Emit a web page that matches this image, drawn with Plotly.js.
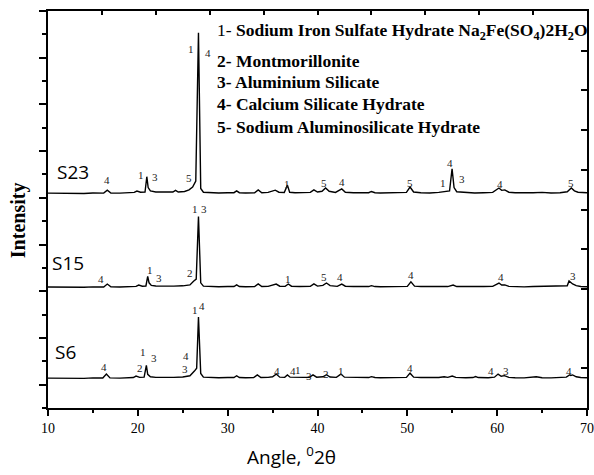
<!DOCTYPE html>
<html>
<head>
<meta charset="utf-8">
<script src="https://cdn.plot.ly/plotly-3.0.1.min.js"></script>
<style>html,body{margin:0;padding:0;background:#fff;}#chart{width:594px;height:475px;opacity:0.999;will-change:opacity;}</style>
</head>
<body>
<div id="chart"></div>
<script>
// ---- Data (2θ in degrees, intensity in arbitrary counts with vertical offsets) ----
const s23_x = [10,11,12,13,14,15,16.2,16.6,17.0,18,19,19.6,19.9,20.3,20.8,21.0,21.15,21.4,22,23,23.9,24.2,24.5,25.2,25.7,26.1,26.45,26.75,27.0,27.3,28,29,30,30.7,31.0,31.3,32,33.0,33.4,33.8,34.5,35.3,35.7,36.3,36.65,36.9,37.5,38.5,39.2,39.6,40.0,40.5,40.9,41.3,42.0,42.7,43.1,44,45,45.7,46.0,46.4,47,48,49,49.9,50.3,50.7,51.5,52.5,53.5,54.3,54.7,54.98,55.2,55.5,56.5,57.5,58.5,59.5,60.2,60.5,60.85,61.3,62,63,64,65,66,67,67.8,68.25,68.6,69,70];
const s23_y = [2050,2048,2052,2050,2047,2052,2050,2082,2052,2050,2055,2058,2072,2060,2062,2226,2110,2075,2062,2058,2062,2080,2062,2068,2085,2115,2180,3766,2100,2060,2055,2052,2055,2055,2075,2055,2052,2055,2085,2055,2058,2082,2060,2058,2136,2060,2055,2058,2058,2085,2062,2070,2105,2070,2058,2095,2060,2055,2058,2055,2068,2055,2052,2055,2052,2058,2115,2062,2055,2052,2058,2072,2075,2311,2110,2065,2058,2052,2055,2058,2105,2080,2085,2060,2055,2052,2055,2058,2052,2055,2065,2105,2075,2060,2055];

const s15_x = [10,11,12,13,14,15,16.2,16.6,17.0,18,19,19.8,20.1,20.5,20.9,21.1,21.25,21.5,22,23,24,25,25.8,26.2,26.5,26.75,27.0,27.3,28,29,30,30.7,31.0,31.3,32,33.0,33.4,33.8,34.5,35.4,35.8,36.4,36.75,37.1,38,39.2,39.6,40.0,40.6,41.0,41.4,42.2,42.7,43.1,44,45,45.7,46.0,46.4,47,48,49,50.0,50.4,50.8,51.5,52.5,53.5,54.5,55.1,55.5,56.5,57.5,58.5,59.5,60.2,60.5,60.85,61.3,62,63,64,65,66,67,67.8,68.0,68.4,68.8,69.3,70];
const s15_y = [1045,1043,1047,1045,1042,1047,1046,1077,1047,1045,1050,1052,1066,1054,1056,1158,1090,1062,1056,1052,1055,1058,1068,1108,1130,1801,1090,1055,1050,1048,1050,1050,1068,1050,1048,1050,1078,1050,1052,1077,1054,1052,1077,1054,1050,1052,1078,1055,1062,1088,1060,1052,1077,1054,1050,1052,1050,1060,1050,1048,1050,1047,1052,1100,1055,1050,1047,1052,1050,1066,1050,1048,1045,1050,1052,1088,1066,1068,1052,1048,1047,1050,1052,1047,1050,1058,1110,1078,1060,1050,1048];

const s6_x = [10,11,12,13,14,15,16.1,16.5,16.9,18,19,19.5,19.8,20.2,20.7,20.95,21.1,21.4,22,23,24,25,25.8,26.3,26.55,26.75,27.0,27.3,28,29,30,30.7,31.0,31.3,32,32.9,33.3,33.7,34.5,35.0,35.4,35.8,36.35,36.65,36.95,37.6,38.5,39.1,39.5,39.9,40.6,41.0,41.4,42.1,42.6,43.0,44,45,45.7,46.0,46.4,47,48,49,49.9,50.3,50.7,51.5,52.5,53.5,54.1,54.5,55.0,55.4,56.5,57.3,57.6,57.9,59,59.7,60.1,60.45,60.8,61.3,62,63,64.35,65,66,67,67.7,68.05,68.2,68.4,68.8,69.3,70];
const s6_y = [70,68,72,70,67,72,71,113,72,70,74,76,92,78,80,207,110,84,78,75,78,82,95,145,175,724,120,80,76,74,76,76,95,76,74,76,104,76,78,84,113,80,78,104,80,76,78,78,104,80,84,106,82,78,113,80,76,78,76,86,76,74,76,73,78,123,80,76,73,76,84,78,92,78,74,76,86,76,74,80,113,90,96,78,74,73,84,74,72,74,80,104,98,104,84,76,74];

// peak identification labels
const lab_x = [16.6,20.35,21.9,25.7,25.9,27.8,36.65,40.75,42.7,50.3,54.0,54.7,56.1,60.35,68.2,
               15.9,21.3,22.4,25.8,26.4,27.4,36.75,40.75,42.5,50.4,60.45,68.4,
               16.2,20.2,20.6,21.8,25.4,25.3,26.4,27.1,35.5,37.3,37.8,39.0,41.0,42.6,50.3,59.35,61.0,68.05];
const lab_y = [2194,2247,2226,2215,3595,3552,2151,2161,2172,2161,2161,2375,2204,2151,2161,
               1134,1230,1145,1198,1883,1883,1134,1148,1148,1170,1148,1159,
               193,182,353,289,310,171,803,845,150,150,161,89,118,150,182,150,150,150];
const lab_t = ['4','1','3','5','1','4','1','5','4','5','1','4','3','4','5',
               '4','1','3','2','1','3','1','5','4','4','4','3',
               '4','2','1','3','4','3','1','4','4','4','1','3','2','1','4','4','3','4'];

const sample_names = ['S23','S15','S6'];
const sample_x = [10.75,10.2,10.55];
const sample_y = [2279,1305,353];

const key_lines = ['1- <b>Sodium Iron Sulfate Hydrate Na<sub>2</sub>Fe(SO<sub>4</sub>)2H<sub>2</sub>O</b>',
                   '<b>2- Montmorillonite</b>',
                   '<b>3- Aluminium Silicate</b>',
                   '<b>4- Calcium Silicate Hydrate</b>',
                   '<b>5- Sodium Aluminosilicate Hydrate</b>'];
const key_y = [3777,3467,3242,3007,2761];
const key_x = 28.6;

// ---- Traces ----
const lineStyle = {color:'#000', width:1.4};
const traces = [
  {x:s23_x, y:s23_y, type:'scatter', mode:'lines', line:lineStyle, hoverinfo:'skip'},
  {x:s15_x, y:s15_y, type:'scatter', mode:'lines', line:lineStyle, hoverinfo:'skip'},
  {x:s6_x,  y:s6_y,  type:'scatter', mode:'lines', line:lineStyle, hoverinfo:'skip'},
  {x:[null], y:[null], xaxis:'x2', yaxis:'y2', type:'scatter', mode:'lines', hoverinfo:'skip'}
];

const annotations = [];
for (let i=0;i<lab_t.length;i++){
  annotations.push({x:lab_x[i], y:lab_y[i], xref:'x', yref:'y', text:lab_t[i], showarrow:false,
    xanchor:'center', yanchor:'middle', font:{family:'Liberation Serif, serif', size:11, color:'#222'}});
}
for (let i=0;i<sample_names.length;i++){
  annotations.push({x:sample_x[i], y:sample_y[i], xref:'x', yref:'y', text:sample_names[i], showarrow:false,
    xanchor:'left', yanchor:'middle', font:{family:'Open Sans, sans-serif', size:19, color:'#000'}});
}
for (let i=0;i<key_lines.length;i++){
  annotations.push({x:key_x, y:key_y[i], xref:'x', yref:'y', text:key_lines[i], showarrow:false,
    xanchor:'left', yanchor:'middle', font:{family:'Liberation Serif, serif', size:17.5, color:'#000'}});
}
annotations.push({x:37.06, y:-0.12, xref:'x', yref:'paper', text:'Angle, <sup>0</sup>2θ', showarrow:false,
  xanchor:'center', yanchor:'middle', font:{family:'Open Sans, sans-serif', size:19, color:'#000'}});
annotations.push({x:-0.055, y:0.474, xref:'paper', yref:'paper', text:'<b>Intensity</b>', textangle:-90, showarrow:false,
  xanchor:'center', yanchor:'middle', font:{family:'Liberation Serif, serif', size:20, color:'#000'}});

const layout = {
  width:594, height:475,
  margin:{l:47.5, r:7, t:11, b:67, pad:0},
  paper_bgcolor:'#fff', plot_bgcolor:'#fff',
  showlegend:false,
  xaxis:{range:[10,70], tick0:10, dtick:10, showgrid:false, zeroline:false,
    showline:true, linecolor:'#000', linewidth:2,
    ticks:'outside', ticklen:6, tickwidth:2, tickcolor:'#000',
    minor:{dtick:5, ticks:'outside', ticklen:3, tickwidth:2, tickcolor:'#000', showgrid:false},
    tickfont:{family:'Liberation Serif, serif', size:14, color:'#000'}},
  yaxis:{range:[-250,4000], tick0:0, dtick:500, showgrid:false, zeroline:false,
    showline:true, linecolor:'#000', linewidth:2, showticklabels:false,
    ticks:'outside', ticklen:7, tickwidth:2, tickcolor:'#000',
    minor:{dtick:250, ticks:'outside', ticklen:4, tickwidth:2, tickcolor:'#000', showgrid:false}},
  xaxis2:{overlaying:'x', side:'top', anchor:'y2', range:[10,70], tick0:10, dtick:6,
    showgrid:false, zeroline:false, showline:true, linecolor:'#000', linewidth:2,
    ticks:'inside', ticklen:4, tickwidth:2, tickcolor:'#000', showticklabels:false},
  yaxis2:{overlaying:'y', side:'right', anchor:'x2', range:[0,10], tick0:0, dtick:1,
    showgrid:false, zeroline:false, showline:true, linecolor:'#000', linewidth:2,
    ticks:'inside', ticklen:6, tickwidth:2, tickcolor:'#000', showticklabels:false},
  annotations:annotations
};

Plotly.newPlot('chart', traces, layout, {staticPlot:true, displayModeBar:false});
</script>
</body>
</html>
